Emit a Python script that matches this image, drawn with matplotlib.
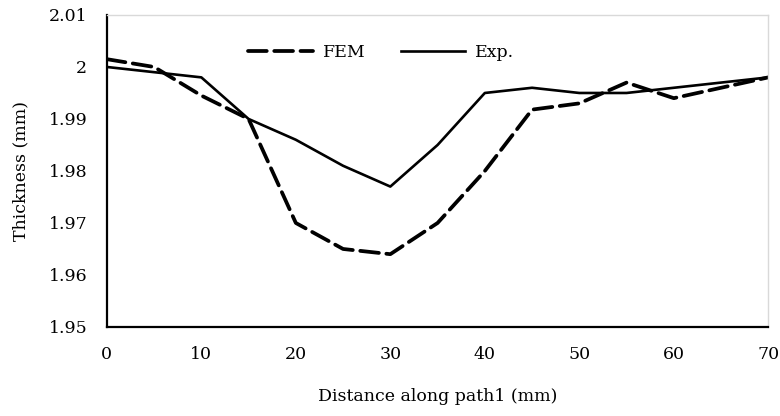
import matplotlib
matplotlib.use("Agg")
import matplotlib.pyplot as plt

distance = [0, 5, 10, 15, 20, 25, 30, 35, 40, 45, 50, 55, 60, 65, 70]
fem = [2.0015, 2.0000, 1.9945, 1.9900, 1.9700, 1.9650, 1.9640, 1.9700,
       1.9800, 1.9918, 1.9930, 1.9970, 1.9940, 1.9960, 1.9980]
exp_ = [2.0000, 1.9990, 1.9980, 1.9900, 1.9860, 1.9810, 1.9770, 1.9850,
        1.9950, 1.9960, 1.9950, 1.9950, 1.9960, 1.9970, 1.9980]

xticks = [0, 10, 20, 30, 40, 50, 60, 70]
yticks = [1.95, 1.96, 1.97, 1.98, 1.99, 2.00, 2.01]
ytick_labels = ["1.95", "1.96", "1.97", "1.98", "1.99", "2", "2.01"]

plt.rcParams.update({"font.family": "DejaVu Serif", "font.size": 12.5})

fig = plt.figure(figsize=(7.8, 4.16), dpi=100)
ax = fig.add_axes([0.137, 0.214, 0.848, 0.750])

ax.plot(distance, fem, color="black", lw=2.7, ls=(0, (5.0, 2.0)),
        dash_capstyle="round", label="FEM")
ax.plot(distance, exp_, color="black", lw=1.9, label="Exp.")

ax.set_xlim(0, 70)
ax.set_ylim(1.95, 2.01)
ax.set_xticks(xticks)
ax.set_yticks(yticks)
ax.set_yticklabels(ytick_labels)
ax.tick_params(length=0, pad=14)

for side in ("top", "right"):
    ax.spines[side].set_color("#d9d9d9")
    ax.spines[side].set_linewidth(1.0)
for side in ("left", "bottom"):
    ax.spines[side].set_color("black")
    ax.spines[side].set_linewidth(1.6)

ax.set_xlabel("Distance along path1 (mm)", labelpad=18)
ax.set_ylabel("Thickness (mm)", labelpad=14)

ax.legend(loc="center", bbox_to_anchor=(0.415, 0.88), ncol=2, frameon=False,
          handlelength=3.7, columnspacing=2.0, handletextpad=0.6,
          borderpad=0, borderaxespad=0)

fig.savefig("out.png", dpi=100)
